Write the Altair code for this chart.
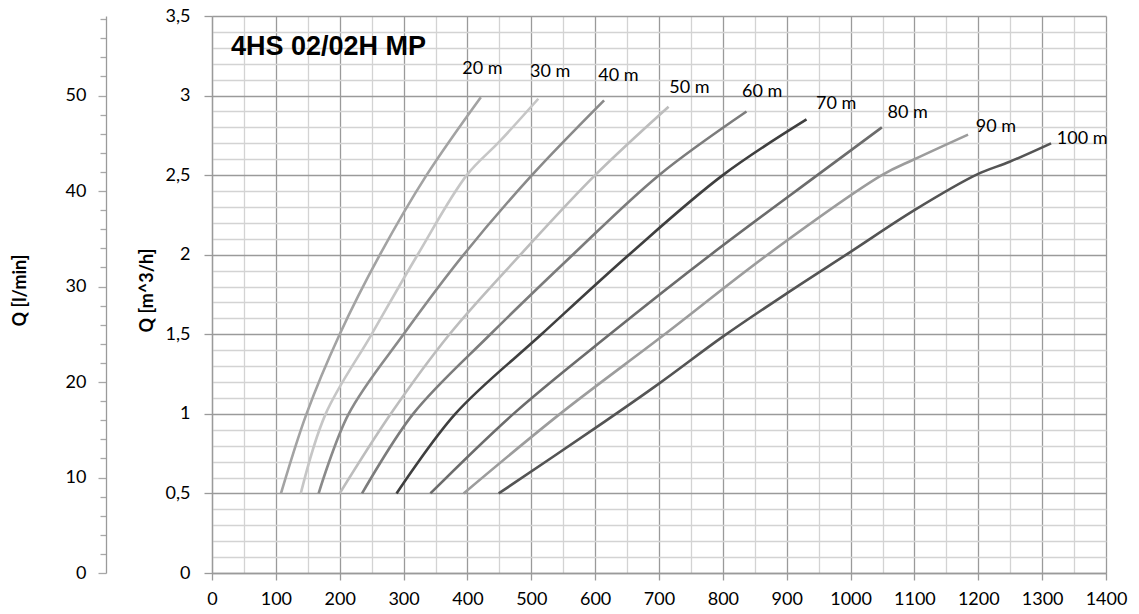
import altair as alt
import pandas as pd

# ---- data ----
heads = ["20 m", "30 m", "40 m", "50 m", "60 m", "70 m", "80 m", "90 m", "100 m"]

h20_x = [108, 148, 200, 263, 336, 421]
h20_q = [0.5, 1.0, 1.5, 2.0, 2.5, 2.99]
h30_x = [139, 178, 250, 322, 399, 450, 511]
h30_q = [0.5, 1.0, 1.5, 2.0, 2.5, 2.71, 2.98]
h40_x = [167, 214, 300, 394, 501, 614]
h40_q = [0.5, 1.0, 1.5, 2.0, 2.5, 2.97]
h50_x = [200, 280, 372, 483, 600, 715]
h50_q = [0.5, 1.0, 1.5, 2.0, 2.5, 2.93]
h60_x = [235, 315, 436, 565, 700, 837]
h60_q = [0.5, 1.0, 1.5, 2.0, 2.5, 2.9]
h70_x = [289, 381, 516, 653, 800, 931]
h70_q = [0.5, 1.0, 1.5, 2.0, 2.5, 2.85]
h80_x = [342, 472, 623, 781, 948, 1049]
h80_q = [0.5, 1.0, 1.5, 2.0, 2.5, 2.8]
h90_x = [394, 545, 709, 870, 1049, 1100, 1184]
h90_q = [0.5, 1.0, 1.5, 2.0, 2.5, 2.6, 2.755]
h100_x = [449, 600, 700, 800, 900, 1000, 1100, 1199, 1249, 1314]
h100_q = [0.5, 0.91, 1.19, 1.485, 1.757, 2.018, 2.28, 2.506, 2.584, 2.70]

series_x = [h20_x, h30_x, h40_x, h50_x, h60_x, h70_x, h80_x, h90_x, h100_x]
series_q = [h20_q, h30_q, h40_q, h50_q, h60_q, h70_q, h80_q, h90_q, h100_q]

label_x = [392, 498, 605, 716, 830, 946, 1058, 1196, 1323]
label_q = [3.17, 3.15, 3.12, 3.05, 3.02, 2.95, 2.89, 2.80, 2.73]

colors = ["#a3a3a3", "#c6c6c6", "#8a8a8a", "#bdbdbd", "#7c7c7c",
          "#3f3f3f", "#6c6c6c", "#9c9c9c", "#545454"]

chart_title = "4HS 02/02H MP"
x_ticks = list(range(0, 1401, 50))
y_ticks = [round(i * 0.1, 1) for i in range(36)]
lmin_ticks = list(range(0, 59, 2))

rows = []
for h, xs, qs in zip(heads, series_x, series_q):
    for x, q in zip(xs, qs):
        rows.append({"head": h, "x": x, "q": q})
df = pd.DataFrame(rows)
lab = pd.DataFrame({"head": heads, "x": label_x, "q": label_q})
ttl = pd.DataFrame({"t": [chart_title]})

GRID_MAJ = "#9a9a9a"
GRID_MIN = "#d3d3d3"
FONT = "Lato"

xscale = alt.Scale(domain=[0, 1400], nice=False, zero=False)
yscale = alt.Scale(domain=[0, 3.5], nice=False)
cscale = alt.Scale(domain=heads, range=colors)

x_axis = alt.Axis(
    values=x_ticks, format="d", title=None,
    labelExpr="datum.value % 100 === 0 ? datum.label : ''",
    gridColor={"condition": {"test": "datum.value % 100 === 0", "value": GRID_MAJ}, "value": GRID_MIN},
    tickColor={"condition": {"test": "datum.value % 100 === 0", "value": GRID_MAJ}, "value": "transparent"},
    gridWidth=1.3, tickSize=7, tickWidth=1.3, domainColor=GRID_MAJ, domainWidth=1.3,
    labelFont=FONT, labelFontSize=18, labelColor="black", labelPadding=10,
    labelFlush=False, labelOverlap=False,
)

y_axis = alt.Axis(
    values=y_ticks, title="Q [m^3/h]",
    labelExpr="round(datum.value*10) % 5 === 0 ? replace(format(datum.value, '.1~f'), '.', ',') : ''",
    gridColor={"condition": {"test": "round(datum.value*10) % 5 === 0", "value": GRID_MAJ}, "value": GRID_MIN},
    tickColor={"condition": {"test": "round(datum.value*10) % 5 === 0", "value": GRID_MAJ}, "value": "transparent"},
    gridWidth=1.3, tickSize=8, tickWidth=1.3, domainColor=GRID_MAJ, domainWidth=1.3,
    labelFont=FONT, labelFontSize=18, labelColor="black", labelPadding=14,
    labelFlush=False, labelOverlap=False,
    titleFont=FONT, titleFontSize=18, titleFontWeight="bold", titleColor="black",
    titleAngle=270, titleAlign="center", titleBaseline="middle",
    titleX=-65, titleY=274,
)

lmin_axis = alt.Axis(
    values=lmin_ticks, orient="left", offset=106, title="Q [l/min]", grid=False,
    labelExpr="datum.value % 10 === 0 ? datum.label : ''",
    tickSize={"condition": {"test": "datum.value % 10 === 0", "value": 8}, "value": 6},
    tickColor="#a8a8a8", tickWidth=1.3, domainColor=GRID_MAJ, domainWidth=1.3,
    labelFont=FONT, labelFontSize=18, labelColor="black", labelPadding=12,
    labelFlush=False, labelOverlap=False,
    titleFont=FONT, titleFontSize=18, titleFontWeight="bold", titleColor="black",
    titleAngle=270, titleAlign="center", titleBaseline="middle",
    titleX=-86, titleY=274,
)

lines = alt.Chart(df).mark_line(strokeWidth=2.6, interpolate="catmull-rom").encode(
    x=alt.X("x:Q", scale=xscale, axis=x_axis),
    y=alt.Y("q:Q", scale=yscale, axis=y_axis),
    color=alt.Color("head:N", scale=cscale, legend=None),
    detail="head:N",
)

labels = alt.Chart(lab).mark_text(
    align="left", baseline="middle", font=FONT, fontSize=18, color="black"
).encode(
    x=alt.X("x:Q", scale=xscale, axis=x_axis),
    y=alt.Y("q:Q", scale=yscale, axis=y_axis),
    text="head:N",
)

title_mark = alt.Chart(ttl).mark_text(
    align="left", baseline="middle", font="Liberation Sans", fontSize=27,
    fontWeight="bold", color="black"
).encode(x=alt.value(19), y=alt.value(31), text="t:N")

main = alt.layer(lines, labels, title_mark)

lmin_layer = alt.Chart(df).transform_calculate(
    lmin="datum.q * 1000 / 60"
).mark_point(opacity=0).encode(
    x=alt.X("x:Q", scale=xscale, axis=x_axis),
    y=alt.Y("lmin:Q", scale=alt.Scale(domain=[0, 3.5 * 1000 / 60], nice=False), axis=lmin_axis),
)

chart = alt.layer(main, lmin_layer).resolve_scale(y="independent").properties(
    width=894, height=557,
    autosize=alt.AutoSizeParams(type="none"),
    padding={"left": 212, "top": 16, "right": 33, "bottom": 41},
    background="white",
).configure_view(strokeOpacity=0)

chart.save("out.html", embed_options={"renderer": "svg", "actions": False})
